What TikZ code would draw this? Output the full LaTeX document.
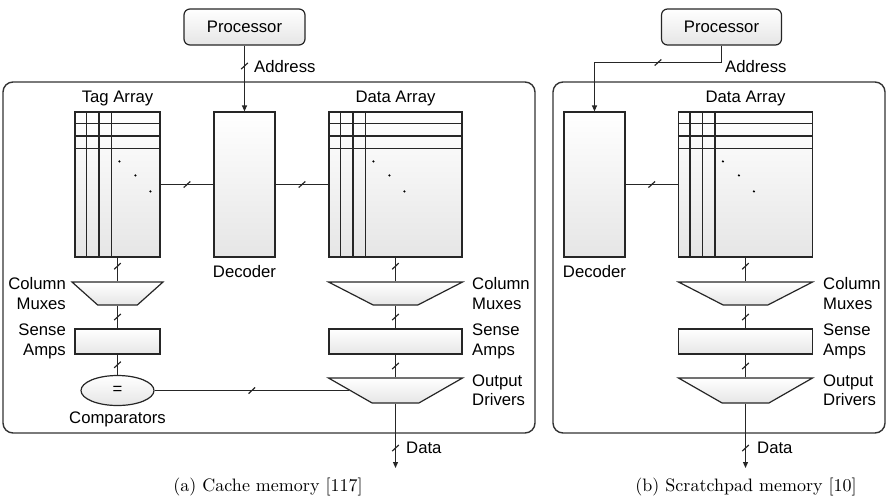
\documentclass[tikz,border=0pt]{standalone}
\usepackage{fontspec}
\newfontfamily\diagfont{Liberation Sans}
\newfontfamily\captfont{lmroman10-regular}[Extension=.otf]
\usetikzlibrary{arrows.meta, shapes.geometric}

\tikzset{
  hwpart/.style={draw=black!85, line width=1.2pt, top color=white, bottom color=black!10, inner sep=0pt,
    font=\diagfont\fontsize{16.7}{19.3}\selectfont},
  block/.style={hwpart, rectangle},
  mux/.style={hwpart, trapezium, shape border rotate=180, trapezium stretches=true, inner sep=1pt},
  lbl/.style={font=\diagfont\fontsize{16.7}{19.3}\selectfont, inner sep=0pt},
  capt/.style={font=\captfont\fontsize{18}{21}\selectfont, inner sep=0pt},
  wire/.style={draw=black!85, line width=1.2pt},
  framebox/.style={draw=black!80, line width=1.4pt, rounded corners=10},
  busmark/.style={fill=black!85, inner sep=0pt, outer sep=0pt, minimum width=1.2pt, minimum height=9pt, rotate=-47}
}

\begin{document}
\begin{tikzpicture}[x=1pt, y=-1pt, >={Triangle[length=6pt, width=5pt]}]
    \useasboundingbox (0,0) rectangle (890,498);

    % (a) cache memory
    \draw [framebox] (3,82) rectangle (535,433);
    \node [block, rounded corners=6, minimum width=121, minimum height=36] (proca) at (244.5,27) {Processor};

    \node [block, minimum width=85, minimum height=145] (tagarr) at (117.5,184.5) {};
    \node [block, minimum width=61, minimum height=145] (deca) at (244.5,184.5) {};
    \node [block, minimum width=133, minimum height=145] (dataa) at (395.5,184.5) {};

    \node [mux, minimum width=91, minimum height=23, trapezium angle=57] (tagmux) at (117.5,293.5) {};
    \node [block, minimum width=85, minimum height=25] (tagsense) at (117.5,341.5) {};
    \node [hwpart, ellipse, minimum width=73, minimum height=30] (comp) at (117.5,390.5) {=};

    \node [mux, minimum width=134, minimum height=23, trapezium angle=45] (muxa) at (395.5,293.5) {};
    \node [block, minimum width=133, minimum height=25] (sensea) at (395.5,341.5) {};
    \node [mux, minimum width=134, minimum height=25, trapezium angle=47] (outa) at (395.5,390.5) {};
    \coordinate (dataouta) at (395.5,468);

    \draw [wire, ->] (proca) -- node [busmark, pos=0.31] (busaddra) {} (deca);
    \draw [wire] (tagarr) -- node [busmark] (bustag) {} (deca);
    \draw [wire] (deca) -- node [busmark] (busdeca) {} (dataa);
    \draw [wire] (tagarr) -- node [busmark, pos=0.36] (bustag1) {} (tagmux);
    \draw [wire] (tagmux) -- node [busmark] (bustag2) {} (tagsense);
    \draw [wire] (tagsense) -- node [busmark] (bustag3) {} (comp);
    \draw [wire] (comp) -- node [busmark] (bushit) {} (outa);
    \draw [wire] (dataa) -- node [busmark, pos=0.36] (busa1) {} (muxa);
    \draw [wire] (muxa) -- node [busmark] (busa2) {} (sensea);
    \draw [wire] (sensea) -- node [busmark] (busa3) {} (outa);
    \draw [wire, ->] (outa) -- node [busmark, pos=0.69] (busa4) {} (dataouta);

    \node [lbl, anchor=base west] (addra) at (254,72.7) {Address};
    \node [lbl, anchor=base] (tagttl) at (117.5,102) {Tag Array};
    \node [lbl, anchor=base] (datattla) at (395.5,102) {Data Array};
    \node [lbl, anchor=base] (decttla) at (244.5,277.5) {Decoder};
    \node [lbl, align=right, anchor=east] (tagmuxttl) at (66,293.5) {Column\\Muxes};
    \node [lbl, align=right, anchor=east] (tagsensettl) at (66,341.5) {Sense\\Amps};
    \node [lbl, anchor=base] (compttl) at (117.5,423) {Comparators};
    \node [lbl, align=left, anchor=west] (muxttla) at (472,293.5) {Column\\Muxes};
    \node [lbl, align=left, anchor=west] (sensettla) at (472,341.5) {Sense\\Amps};
    \node [lbl, align=left, anchor=west] (outttla) at (472,390.5) {Output\\Drivers};
    \node [lbl, anchor=base west] (datalbla) at (406,453.3) {Data};
    \node [capt, anchor=base] (capta) at (268,491) {(a) Cache memory [117]};

    % (b) scratchpad memory
    \draw [framebox] (553,82) rectangle (885,433);
    \node [block, rounded corners=6, minimum width=120, minimum height=36] (procb) at (721.5,27) {Processor};

    \node [block, minimum width=61, minimum height=145] (decb) at (594.5,184.5) {};
    \node [block, minimum width=134, minimum height=145] (datab) at (745.5,184.5) {};

    \node [mux, minimum width=134, minimum height=23, trapezium angle=45] (muxb) at (745.5,293.5) {};
    \node [block, minimum width=134, minimum height=25] (senseb) at (745.5,341.5) {};
    \node [mux, minimum width=134, minimum height=25, trapezium angle=47] (outb) at (745.5,390.5) {};
    \coordinate (dataoutb) at (745.5,468);

    \draw [wire, ->] (procb) -- ++(0,35.5) -| node [busmark, pos=0.25] (busaddrb) {} (decb);
    \draw [wire] (decb) -- node [busmark] (busdecb) {} (datab);
    \draw [wire] (datab) -- node [busmark, pos=0.36] (busb1) {} (muxb);
    \draw [wire] (muxb) -- node [busmark] (busb2) {} (senseb);
    \draw [wire] (senseb) -- node [busmark] (busb3) {} (outb);
    \draw [wire, ->] (outb) -- node [busmark, pos=0.69] (busb4) {} (dataoutb);

    \node [lbl, anchor=base west] (addrb) at (725,72.7) {Address};
    \node [lbl, anchor=base] (datattlb) at (745.5,102) {Data Array};
    \node [lbl, anchor=base] (decttlb) at (594.5,277.5) {Decoder};
    \node [lbl, align=left, anchor=west] (muxttlb) at (823,293.5) {Column\\Muxes};
    \node [lbl, align=left, anchor=west] (sensettlb) at (823,341.5) {Sense\\Amps};
    \node [lbl, align=left, anchor=west] (outttlb) at (823,390.5) {Output\\Drivers};
    \node [lbl, anchor=base west] (datalblb) at (757,453.3) {Data};
    \node [capt, anchor=base] (captb) at (746,491) {(b) Scratchpad memory [10]};

    % array grids
    \foreach \arr in {tagarr, dataa, datab} {
        \foreach \d in {12, 24.5, 37} {
            \draw [wire] ([xshift=\d]\arr.north west) -- ([xshift=\d]\arr.south west);
            \draw [wire] ([yshift=-\d]\arr.north west) -- ([yshift=-\d]\arr.north east);
        }
        \fill ([shift={(45,50)}]\arr.north west) circle (1.2);
        \fill ([shift={(61,64)}]\arr.north west) circle (1.2);
        \fill ([shift={(76,80)}]\arr.north west) circle (1.2);
    }
\end{tikzpicture}
\end{document}
